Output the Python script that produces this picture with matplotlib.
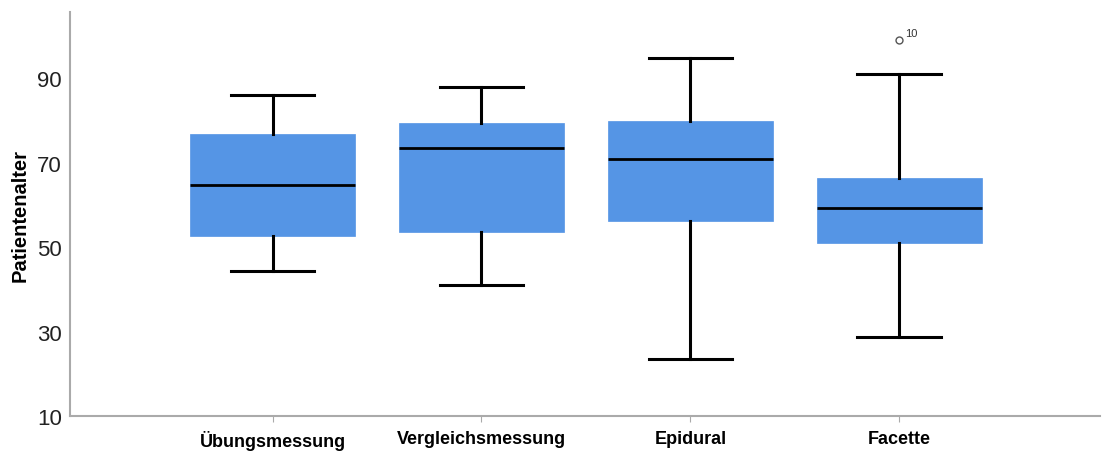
import matplotlib.pyplot as plt

plt.rcParams['font.family'] = ['Liberation Sans', 'DejaVu Sans']

# Data
categories = ['Übungsmessung', 'Vergleichsmessung', 'Epidural', 'Facette']
whislo = [44.3, 41.0, 23.5, 28.7]
q1 = [52.6, 53.5, 56.2, 50.9]
med = [64.7, 73.4, 70.8, 59.2]
q3 = [76.7, 79.3, 79.8, 66.3]
whishi = [86.0, 87.9, 94.7, 90.9]
fliers = [[], [], [], [99.0]]
flier_ids = [[], [], [], ['10']]

stats = []
for i, name in enumerate(categories):
    stats.append(dict(label=name, whislo=whislo[i], q1=q1[i], med=med[i],
                      q3=q3[i], whishi=whishi[i], fliers=fliers[i]))

fig, ax = plt.subplots(figsize=(11.02, 4.52), dpi=100)
fig.subplots_adjust(left=0.0635, right=0.998, bottom=0.077, top=0.971)

positions = list(range(len(categories)))
ax.bxp(stats, positions=positions, widths=0.79, patch_artist=True,
       capwidths=0.4,
       boxprops=dict(facecolor='#5595e5', edgecolor='#5595e5', linewidth=0.5),
       medianprops=dict(color='black', linewidth=2),
       whiskerprops=dict(color='black', linewidth=2.2),
       capprops=dict(color='black', linewidth=2.2),
       flierprops=dict(marker='o', markersize=5, markerfacecolor='none',
                       markeredgecolor='#555555', markeredgewidth=1))

# Outlier case labels
for i, ids in enumerate(flier_ids):
    for val, lab in zip(fliers[i], ids):
        ax.annotate(lab, (positions[i], val), xytext=(4, 3),
                    textcoords='offset points', fontsize=8, color='#333333')

ax.set_xlim(-0.97, 3.96)
ax.set_ylim(10, 105.6)
ax.set_yticks([10, 30, 50, 70, 90])
ax.set_xticks(positions)
ax.set_xticklabels(categories, fontsize=13, fontweight='bold')
ax.tick_params(axis='y', length=0, labelsize=16, labelcolor='#222222', pad=6)
ax.tick_params(axis='x', length=4, color='#aaaaaa', pad=6)
ax.set_ylabel('Patientenalter', fontsize=14.5, fontweight='bold', labelpad=5)

for side in ['top', 'right']:
    ax.spines[side].set_visible(False)
for side in ['left', 'bottom']:
    ax.spines[side].set_color('#aaaaaa')
    ax.spines[side].set_linewidth(1.5)

plt.savefig('out.png', dpi=100)
